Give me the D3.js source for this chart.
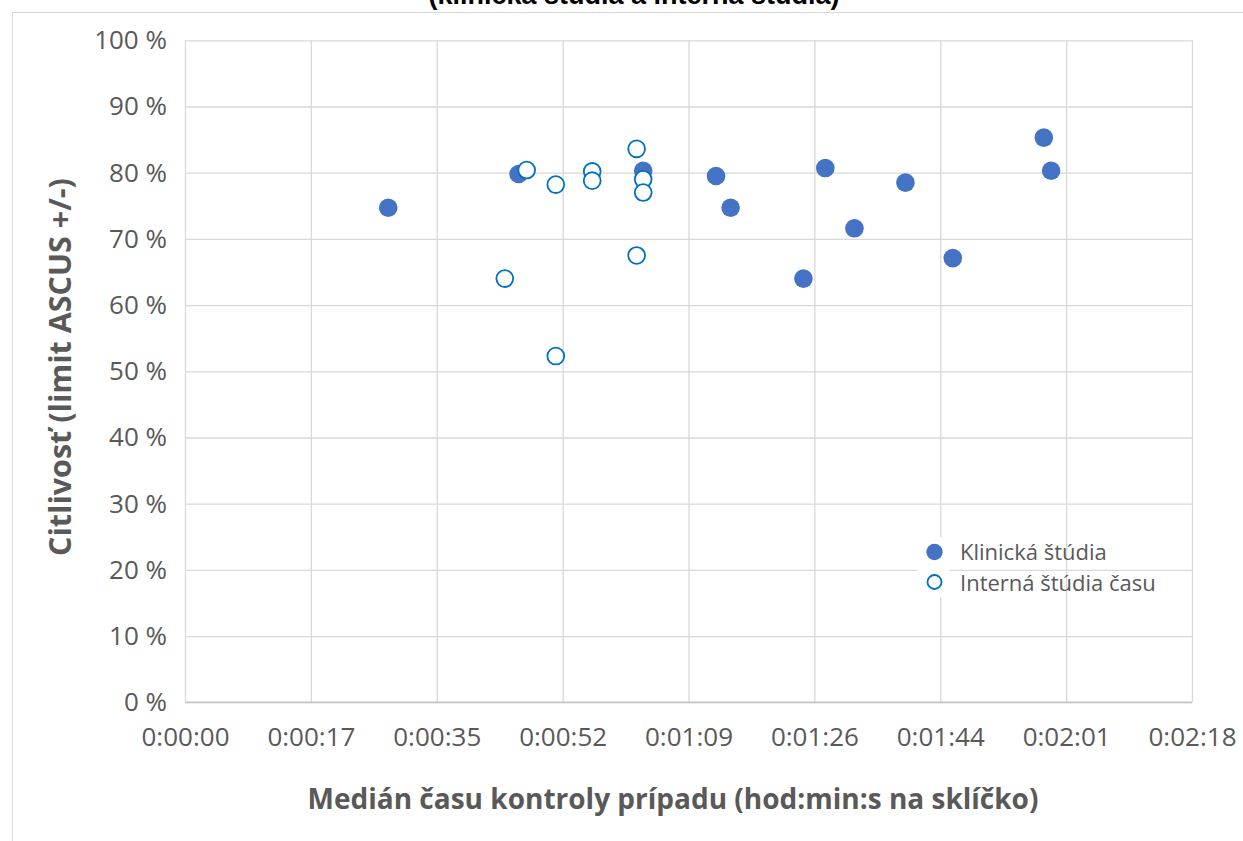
<!DOCTYPE html>
<html>
<head>
<meta charset="utf-8">
<script src="https://cdn.jsdelivr.net/npm/d3@7"></script>
<style>
  body { margin: 0; background: #fff; }
  svg { display: block; font-family: "Open Sans", "Noto Sans", sans-serif; }
</style>
</head>
<body>
<svg id="chart" width="1243" height="841"></svg>
<script>
// Klinická štúdia: median time (s) vs sensitivity (%)
var klinX = [27.9, 45.8, 62.9, 72.9, 74.9, 84.9, 87.9, 91.9, 98.9, 105.4, 117.9, 118.9];
var klinY = [74.7, 79.8, 80.3, 79.5, 74.7, 64.0, 80.7, 71.6, 78.5, 67.1, 85.3, 80.3];

// Interná štúdia času
var intX = [43.9, 46.9, 50.9, 50.9, 55.9, 55.9, 62.0, 62.0, 62.9, 62.9];
var intY = [64.0, 80.4, 78.2, 52.3, 80.2, 78.8, 83.6, 67.5, 79.0, 77.0];

var xTickLabels = ['0:00:00', '0:00:17', '0:00:35', '0:00:52', '0:01:09', '0:01:26', '0:01:44', '0:02:01', '0:02:18'];
var yTickLabels = ['0 %', '10 %', '20 %', '30 %', '40 %', '50 %', '60 %', '70 %', '80 %', '90 %', '100 %'];
var seriesNames = ['Klinická štúdia', 'Interná štúdia času'];

var xUnit = 17.28; // excel major unit 0.0002 day in seconds

var svg = d3.select('#chart');

var margin = { left: 185, right: 1192, top: 40.3, bottom: 702.3 };

var xScale = d3.scaleLinear()
  .domain([0, xUnit * (xTickLabels.length - 1)])
  .range([margin.left, margin.right]);

var yScale = d3.scaleLinear()
  .domain([0, 100])
  .range([margin.bottom, margin.top]);

// chart frame
svg.append('rect')
  .attr('x', 12.5).attr('y', 12.5)
  .attr('width', 1300).attr('height', 900)
  .attr('fill', 'none')
  .attr('stroke', '#d9d9d9');

// title (cut off at the top)
svg.append('text')
  .attr('x', 634).attr('y', 4)
  .attr('text-anchor', 'middle')
  .style('font-family', '"Liberation Sans", Arial, sans-serif')
  .style('font-weight', 'bold')
  .style('font-size', '27px')
  .attr('fill', '#000')
  .text('(klinická štúdia a interná štúdia)');

// x axis + vertical grid
var xAxis = svg.append('g')
  .attr('transform', 'translate(0,' + margin.bottom + ')')
  .call(d3.axisBottom(xScale)
    .tickValues(xTickLabels.map(function(d, i) { return i * xUnit; }))
    .tickFormat(function(d, i) { return xTickLabels[i]; })
    .tickSize(-(margin.bottom - margin.top))
    .tickPadding(25));
xAxis.select('.domain').remove();
xAxis.selectAll('line').attr('stroke', '#d9d9d9').attr('stroke-width', 1.3);
xAxis.selectAll('text')
  .attr('fill', '#595959')
  .style('font-size', '26px')
  .style('font-family', '"Open Sans", sans-serif');

// y axis + horizontal grid
var yAxis = svg.append('g')
  .attr('transform', 'translate(' + margin.left + ',0)')
  .call(d3.axisLeft(yScale)
    .tickValues(yTickLabels.map(function(d, i) { return i * 10; }))
    .tickFormat(function(d, i) { return yTickLabels[i]; })
    .tickSize(-(margin.right - margin.left))
    .tickPadding(18));
yAxis.select('.domain').remove();
yAxis.selectAll('line').attr('stroke', '#d9d9d9').attr('stroke-width', 1.3);
yAxis.selectAll('text')
  .attr('fill', '#595959')
  .style('font-size', '26px')
  .style('font-family', '"Open Sans", sans-serif');

// bottom axis line
svg.append('line')
  .attr('x1', margin.left).attr('x2', margin.right)
  .attr('y1', margin.bottom).attr('y2', margin.bottom)
  .attr('stroke', '#c4c4c4').attr('stroke-width', 1.5);

// axis titles
svg.append('text')
  .attr('transform', 'translate(71,' + 367 + ') rotate(-90)')
  .attr('text-anchor', 'middle')
  .attr('fill', '#595959')
  .style('font-weight', 'bold')
  .style('font-size', '30.5px')
  .text('Citlivosť (limit ASCUS +/-)');

svg.append('text')
  .attr('x', 673).attr('y', 809)
  .attr('text-anchor', 'middle')
  .attr('fill', '#595959')
  .style('font-weight', 'bold')
  .style('font-size', '28px')
  .text('Medián času kontroly prípadu (hod:min:s na sklíčko)');

// points
svg.selectAll('.klin')
  .data(klinX)
  .enter()
  .append('circle')
  .attr('class', 'klin')
  .attr('cx', function(d) { return xScale(d); })
  .attr('cy', function(d, i) { return yScale(klinY[i]); })
  .attr('r', 9.3)
  .attr('fill', '#4472c4');

svg.selectAll('.int')
  .data(intX)
  .enter()
  .append('circle')
  .attr('class', 'int')
  .attr('cx', function(d) { return xScale(d); })
  .attr('cy', function(d, i) { return yScale(intY[i]); })
  .attr('r', 8.4)
  .attr('fill', '#fff')
  .attr('stroke', '#0070c0')
  .attr('stroke-width', 1.8);

// legend
var legend = svg.append('g');
legend.append('rect')
  .attr('x', 917).attr('y', 537).attr('width', 32).attr('height', 60)
  .attr('fill', '#fff');
legend.append('circle')
  .attr('cx', 934.5).attr('cy', 552).attr('r', 8.2)
  .attr('fill', '#4472c4');
legend.append('circle')
  .attr('cx', 934.5).attr('cy', 582).attr('r', 7)
  .attr('fill', '#fff')
  .attr('stroke', '#0070c0')
  .attr('stroke-width', 1.8);
legend.selectAll('.leg-text')
  .data(seriesNames)
  .enter()
  .append('text')
  .attr('class', 'leg-text')
  .attr('x', 960)
  .attr('y', function(d, i) { return 560 + i * 31; })
  .attr('fill', '#595959')
  .style('font-size', '22px')
  .text(function(d) { return d; });
</script>
</body>
</html>
